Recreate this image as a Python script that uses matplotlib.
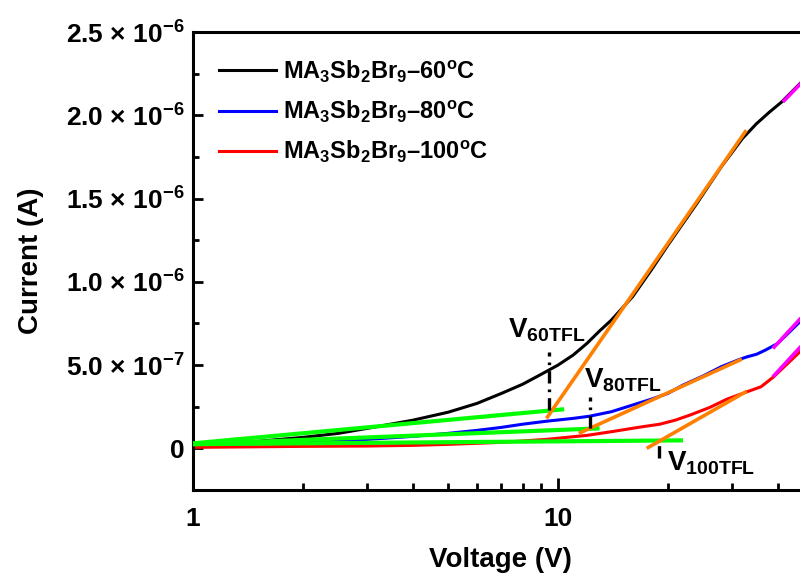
"""
plot.py - trap-filled-limit (TFL) I-V curves of MA3Sb2Br9 films annealed at 60/80/100 C.
Log-voltage axis, linear current axis, ohmic (green) and TFL (orange) fits.
"""
import matplotlib
matplotlib.use('Agg')
import matplotlib.pyplot as plt
from matplotlib.ticker import FuncFormatter, MultipleLocator, FixedLocator, LogLocator, NullFormatter

plt.rcParams['font.family'] = ['Liberation Sans', 'DejaVu Sans']
plt.rcParams['font.weight'] = 'bold'
plt.rcParams['mathtext.fontset'] = 'custom'
plt.rcParams['mathtext.rm'] = 'Liberation Sans:bold'
plt.rcParams['mathtext.bf'] = 'Liberation Sans:bold'
plt.rcParams['mathtext.it'] = 'Liberation Sans:bold:italic'
plt.rcParams['mathtext.default'] = 'rm'

# ---- measured I-V curves (V in volts, I in amps) --------------------------- #
v_60 = [1.0, 1.5, 2.0, 2.5, 3.0, 4.0, 5.0, 6.0, 7.0, 8.0, 9.0, 10.0, 11.0, 12.0, 13.0, 14.0,
        16.0, 18.0, 20.0, 24.0, 28.0, 32.0, 35.0, 38.0, 41.0, 46.0, 50.0]
i_60 = [2.4e-8, 4.2e-8, 6.6e-8, 9.0e-8, 1.2e-7, 1.69e-7, 2.17e-7, 2.7e-7, 3.3e-7, 3.85e-7,
        4.45e-7, 5.0e-7, 5.6e-7, 6.3e-7, 7.05e-7, 7.7e-7, 9.1e-7, 1.07e-6, 1.22e-6, 1.47e-6,
        1.69e-6, 1.86e-6, 1.95e-6, 2.02e-6, 2.08e-6, 2.19e-6, 2.27e-6]

v_80 = [1.0, 2.0, 3.0, 4.0, 5.0, 6.0, 7.0, 8.0, 9.3, 11.0, 12.2, 14.0, 16.0, 18.0, 20.0, 22.0,
        25.0, 28.0, 31.5, 33.0, 35.0, 37.0, 40.0, 46.0, 50.0]
i_80 = [1.8e-8, 3.5e-8, 5.4e-8, 7.2e-8, 9.0e-8, 1.08e-7, 1.26e-7, 1.45e-7, 1.63e-7, 1.8e-7,
        1.93e-7, 2.2e-7, 2.6e-7, 2.95e-7, 3.3e-7, 3.8e-7, 4.35e-7, 4.9e-7, 5.35e-7, 5.5e-7,
        5.65e-7, 5.9e-7, 6.3e-7, 7.6e-7, 8.4e-7]

v_100 = [1.0, 2.0, 3.0, 4.0, 5.0, 7.0, 9.3, 12.0, 14.0, 16.7, 19.0, 21.0, 23.0, 26.0, 29.0,
         33.0, 36.0, 39.0, 46.0, 50.0]
i_100 = [6e-9, 1.2e-8, 1.4e-8, 1.8e-8, 2.4e-8, 3.6e-8, 5.4e-8, 7.8e-8, 1.0e-7, 1.27e-7,
         1.45e-7, 1.7e-7, 2.0e-7, 2.45e-7, 2.95e-7, 3.4e-7, 3.7e-7, 4.3e-7, 5.8e-7, 6.7e-7]

labels = [r'MA$_3$Sb$_2$Br$_9$–60$^\mathrm{o}$C',
          r'MA$_3$Sb$_2$Br$_9$–80$^\mathrm{o}$C',
          r'MA$_3$Sb$_2$Br$_9$–100$^\mathrm{o}$C']

# ---- fit segments (endpoints) ------------------------------------------- #
ohmic_v = [(1.0, 10.4), (1.0, 13.0), (1.0, 22.0)]
ohmic_i = [(3.0e-8, 2.35e-7), (2.5e-8, 1.2e-7), (2.5e-8, 4.8e-8)]
tfl_v = [(9.3, 32.8), (11.4, 31.9), (17.5, 32.9)]
tfl_i = [(1.8e-7, 1.91e-6), (9.0e-8, 5.36e-7), (0.0, 3.43e-7)]
child_v = [(41.3, 55.0), (38.8, 55.0), (38.8, 55.0)]
child_i = [(2.08e-6, 2.36e-6), (6.0e-7, 9.6e-7), (4.3e-7, 7.9e-7)]

# ---- trap-filled-limit voltage markers ------------------------------------ #
vtfl = [9.45, 12.2, 18.9]
vtfl_lo = [2.3e-7, 1.2e-7, -6e-8]
vtfl_hi = [5.8e-7, 3.1e-7, 3e-8]
vtfl_text = [r'V$_{\mathregular{60TFL}}$', r'V$_{\mathregular{80TFL}}$', r'V$_{\mathregular{100TFL}}$']
vtfl_text_xy = [(7.3, 6.63e-7), (11.8, 3.67e-7), (19.9, -1.33e-7)]

W, H = 800, 575
fig = plt.figure(figsize=(W / 100, H / 100), dpi=100)
# the axes runs past the right edge of the figure, as in the original export
ax = fig.add_axes([193 / W, (H - 490) / H, (923 - 193) / W, (490 - 32) / H])

colors = ['#000000', '#0000ff', '#ff0000']
for v, i, c, lab in zip([v_60, v_80, v_100], [i_60, i_80, i_100], colors, labels):
    ax.plot(v, i, color=c, lw=2.2, label=lab, zorder=2)

for v, i in zip(ohmic_v, ohmic_i):
    ax.plot(v, i, color='#00ff00', lw=3.0, solid_capstyle='butt', zorder=3)
for v, i in zip(tfl_v, tfl_i):
    ax.plot(v, i, color='#ff8000', lw=2.6, solid_capstyle='butt', zorder=3)
for v, i in zip(child_v, child_i):
    ax.plot(v, i, color='#ff00ff', lw=2.6, solid_capstyle='butt', zorder=3)

for x, lo, hi in zip(vtfl, vtfl_lo, vtfl_hi):
    ax.plot([x, x], [lo, hi], color='k', lw=2.4, ls=(0, (3.7, 1.8, 0.8, 1.8)), zorder=4)
for t, (x, y) in zip(vtfl_text, vtfl_text_xy):
    ax.text(x, y, t, fontsize=20, fontweight='bold', ha='left', va='baseline')

ax.set_xscale('log')
ax.set_xlim(1, 100)
ax.set_ylim(-2.5e-7, 2.5e-6)

ax.yaxis.set_major_locator(MultipleLocator(5e-7))
ax.yaxis.set_minor_locator(MultipleLocator(2.5e-7))


def sci_fmt(val, pos):
    if abs(val) < 1e-12:
        return '0'
    exp = int(f'{val:e}'.split('e')[1])
    man = val / 10 ** exp
    return f'{man:.1f} × 10$^{{{exp}}}$'


ax.yaxis.set_major_formatter(FuncFormatter(sci_fmt))
ax.xaxis.set_major_locator(FixedLocator([1, 10]))
ax.xaxis.set_minor_locator(LogLocator(base=10, subs=range(2, 10)))
ax.xaxis.set_major_formatter(FuncFormatter(lambda v, p: f'{v:g}'))
ax.xaxis.set_minor_formatter(NullFormatter())

ax.tick_params(which='both', direction='in', width=2, labelsize=19, top=False, right=False)
ax.tick_params(axis='y', which='major', length=7, pad=6)
ax.tick_params(axis='y', which='minor', length=4)
ax.tick_params(axis='x', which='major', length=9, pad=12)
ax.tick_params(axis='x', which='minor', length=5)
for lab in ax.get_xticklabels() + ax.get_yticklabels():
    lab.set_fontweight('bold')
for s in ax.spines.values():
    s.set_linewidth(2.2)

ax.set_xlabel('Voltage (V)', fontsize=20, fontweight='bold')
ax.xaxis.set_label_coords((500 - 193) / (923 - 193), -0.125)
ax.set_ylabel('Current (A)', fontsize=20, fontweight='bold')
ax.yaxis.set_label_coords(-0.204, 0.5)

ax.legend(loc='upper left', bbox_to_anchor=(0.0, 1.0), frameon=False, fontsize=17,
          handlelength=2.4, handletextpad=0.3, labelspacing=0.6, borderaxespad=0.72)

fig.savefig('out.png', dpi=100)
